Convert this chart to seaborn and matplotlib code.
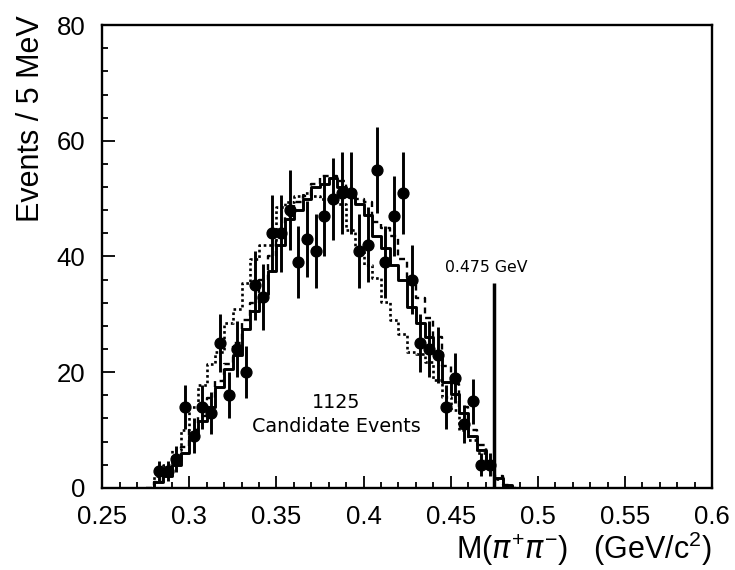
import numpy as np
import pandas as pd
import matplotlib
matplotlib.use("Agg")
import matplotlib.pyplot as plt
import seaborn as sns
from matplotlib.ticker import MultipleLocator

# measured M(pi+ pi-) spectrum, 5 MeV bins
bin_width = 0.005
data_mass = np.round(np.arange(0.2825, 0.4750, bin_width), 4)
data_counts = [3, 3, 5, 14, 9, 14, 13, 25, 16, 24, 20, 35, 33, 44, 44, 48, 39, 43,
               41, 47, 50, 51, 51, 41, 42, 55, 39, 47, 51, 36, 25, 24, 23, 14, 19,
               11, 15, 4, 4]

# MC histograms, lower bin edges 0.275 ... 0.485
hist_lo = np.round(np.arange(0.275, 0.4875, bin_width), 4)
mc_solid = [0, 1, 2, 4, 6, 9, 11.5, 14, 17.5, 20.5, 23, 27.5, 30.5, 33.5, 37.5, 42,
            46.5, 48, 50, 52, 52.5, 53.5, 52, 50.5, 49, 47.2, 43.5, 41.5, 38.5, 35.9,
            31.3, 28.5, 26, 23.3, 18.3, 16.3, 12.9, 8.9, 6.6, 3.7, 1.7, 0.5, 0]
mc_dashed = [0, 1, 2.5, 4.5, 7, 10, 12.5, 15.5, 18.5, 21.5, 25, 29, 32, 36, 40, 44,
             47, 49.5, 50.5, 52.5, 54, 54, 53, 51.5, 50, 49.5, 46, 45, 43.5, 39.5,
             36.3, 32.8, 29.3, 26, 21, 18, 14, 10, 7.5, 4.5, 2, 0.5, 0]
mc_dotted = [0, 2, 4, 6.6, 10, 14, 17.8, 21.5, 23.5, 28.5, 31, 35.5, 39.5, 42, 42,
             48.5, 49.5, 50.5, 51, 50.5, 50, 49.5, 49, 44.6, 41.5, 38.6, 36.2, 32.2,
             29, 26.6, 23.5, 23.1, 21.8, 18.7, 15.8, 13.5, 10, 8.3, 6, 3.5, 1.5, 0.3, 0]

cut_mass = 0.475
cut_height = 35.5
n_events = 1125

sns.set_style("ticks")
plt.rcParams['font.family'] = ['Liberation Sans', 'DejaVu Sans']
plt.rcParams['mathtext.fontset'] = 'custom'
plt.rcParams['mathtext.rm'] = 'Liberation Sans'
plt.rcParams['mathtext.it'] = 'DejaVu Sans:italic'
for key in ['text.color', 'axes.labelcolor', 'xtick.color', 'ytick.color', 'axes.edgecolor']:
    plt.rcParams[key] = 'black'

fig = plt.figure(figsize=(7.35, 5.7), dpi=100)
ax = fig.add_axes([0.139, 0.144, 0.830, 0.812])

edges = [round(e, 4) for e in np.append(hist_lo, hist_lo[-1] + bin_width)]
centers = hist_lo + bin_width / 2
mc = pd.DataFrame({"mass": centers, "solid": mc_solid,
                   "dashed": mc_dashed, "dotted": mc_dotted})

sns.histplot(data=mc, x="mass", weights="dotted", bins=edges, element="step",
             fill=False, color="black", linestyle=(0, (1, 1.1)), linewidth=1.9, ax=ax)
sns.histplot(data=mc, x="mass", weights="dashed", bins=edges, element="step",
             fill=False, color="black", linestyle=(0, (2.5, 2)), linewidth=1.7, ax=ax)
sns.histplot(data=mc, x="mass", weights="solid", bins=edges, element="step",
             fill=False, color="black", linewidth=2.1, ax=ax)

counts = np.array(data_counts, dtype=float)
ax.errorbar(data_mass, counts, yerr=np.sqrt(counts), fmt="o", color="black",
            ms=7.8, elinewidth=2.1, capsize=0, zorder=5)

ax.vlines(cut_mass, 0, cut_height, color="black", linewidth=2.5, zorder=6)
ax.text(cut_mass - 0.0047, cut_height + 2.6, "0.475 GeV", fontsize=11.3,
        family="DejaVu Sans", ha="center", va="center")
ax.text(0.3842, 14.7, str(n_events), fontsize=13.8, family="DejaVu Sans",
        ha="center", va="center")
ax.text(0.3842, 10.7, "Candidate Events", fontsize=13.8, family="DejaVu Sans",
        ha="center", va="center")

ax.set_xlim(0.25, 0.6)
ax.set_ylim(0, 80)
ax.xaxis.set_major_locator(MultipleLocator(0.05))
ax.xaxis.set_minor_locator(MultipleLocator(0.01))
ax.yaxis.set_major_locator(MultipleLocator(20))
ax.yaxis.set_minor_locator(MultipleLocator(4))
ax.set_xticks([0.25, 0.3, 0.35, 0.4, 0.45, 0.5, 0.55, 0.6])
ax.set_xticklabels(["0.25", "0.3", "0.35", "0.4", "0.45", "0.5", "0.55", "0.6"])

ax.tick_params(which="both", direction="in", top=False, right=False,
               labelsize=18.5, width=1.3)
ax.tick_params(which="major", length=9, pad=12)
ax.tick_params(which="minor", length=4.5)
for s in ax.spines.values():
    s.set_linewidth(1.7)
    s.set_visible(True)

ax.set_xlabel(r"M($\pi^{+}\pi^{-}$)   (GeV/c$^{2}$)", fontsize=22, loc="right",
              labelpad=1)
ax.set_ylabel("Events / 5 MeV", fontsize=22, loc="top")
ax.yaxis.set_label_coords(-0.092, 1.022)

fig.savefig("out.png", dpi=100)
